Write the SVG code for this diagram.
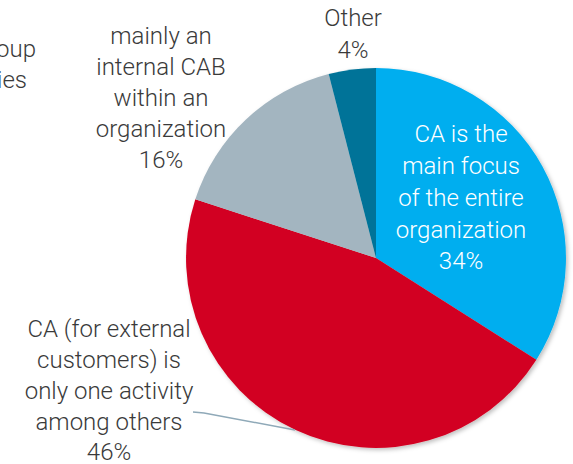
<svg xmlns="http://www.w3.org/2000/svg" width="573" height="464" viewBox="0 0 573 464">
<defs>
<style>
.t{font-family:Roboto,"Liberation Sans",sans-serif;font-weight:300;font-size:24px;fill:#3a3a3a;text-anchor:middle}
.w{fill:#ffffff}
</style>
<filter id="sh" x="-10%" y="-10%" width="120%" height="120%">
<feDropShadow dx="2" dy="2" stdDeviation="2" flood-color="#000" flood-opacity="0.25"/>
</filter>
</defs>
<rect width="573" height="464" fill="#ffffff"/>
<g id="pie" filter="url(#sh)">
<g id="slice-main"><path d="M376,258 L376,68 A190,190 0 0 1 536.4,359.8 Z" fill="#00aeef"/></g>
<g id="slice-external"><path d="M376,258 L536.4,359.8 A190,190 0 0 1 195.3,199.3 Z" fill="#d20021"/></g>
<g id="slice-internal"><path d="M376,258 L195.3,199.3 A190,190 0 0 1 328.7,74 Z" fill="#a3b5c0"/></g>
<g id="slice-other"><path d="M376,258 L328.7,74 A190,190 0 0 1 376,68 Z" fill="#007398"/></g>
</g>
<g id="connectors">
<polyline points="193,412 204,413 295,430" fill="none" stroke="#8fa9b8" stroke-width="1.5"/>
</g>
<g id="label-cut">
<text class="t" x="36" y="57" style="text-anchor:end">oup</text>
<text class="t" x="27" y="88" style="text-anchor:end">ies</text>
</g>
<g id="label-internal">
<text class="t" x="161" y="44">mainly an</text>
<text class="t" x="161" y="75">internal CAB</text>
<text class="t" x="161" y="106">within an</text>
<text class="t" x="161" y="137">organization</text>
<text class="t" x="161" y="168">16%</text>
</g>
<g id="label-other">
<text class="t" x="353" y="26">Other</text>
<text class="t" x="353" y="58">4%</text>
</g>
<g id="label-main">
<text class="t w" x="461" y="142">CA is the</text>
<text class="t w" x="461" y="174">main focus</text>
<text class="t w" x="461" y="206">of the entire</text>
<text class="t w" x="461" y="238">organization</text>
<text class="t w" x="461" y="269">34%</text>
</g>
<g id="label-external">
<text class="t" x="109" y="337">CA (for external</text>
<text class="t" x="109" y="368">customers) is</text>
<text class="t" x="109" y="399">only one activity</text>
<text class="t" x="109" y="430">among others</text>
<text class="t" x="109" y="460">46%</text>
</g>
</svg>
